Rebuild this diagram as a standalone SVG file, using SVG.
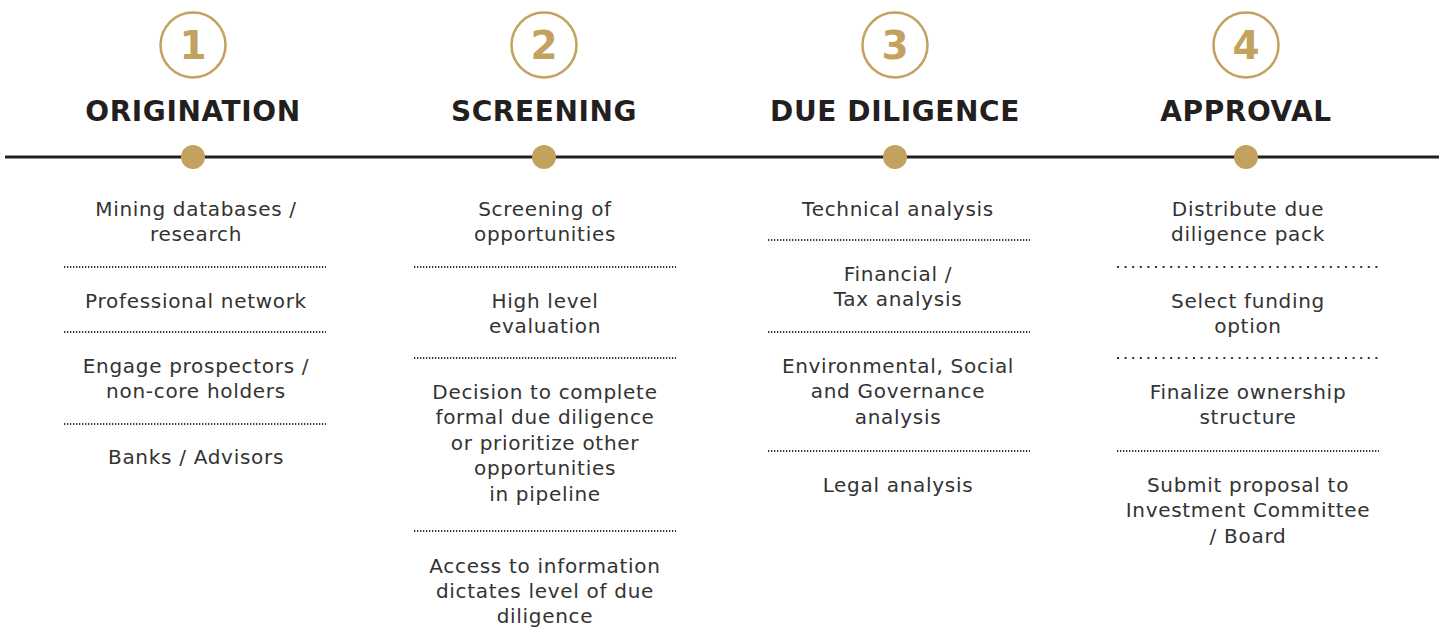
<svg xmlns="http://www.w3.org/2000/svg" width="1439" height="628" viewBox="0 0 1439 628">
<style>
.ring{fill:none;stroke:#C3A15E;stroke-width:2.5}
.num{font-family:"DejaVu Sans",sans-serif;font-weight:bold;font-size:39px;fill:#C3A15E;text-anchor:middle}
.ttl{font-family:"DejaVu Sans",sans-serif;font-weight:bold;font-size:28px;letter-spacing:0.6px;fill:#231F20;text-anchor:middle}
.dot{fill:#C3A15E}
.txt{font-family:"DejaVu Sans",sans-serif;font-size:20px;letter-spacing:0.7px;fill:#333333;text-anchor:middle}
.sep{stroke:#333333;stroke-width:2;stroke-dasharray:1.3 1.7;fill:none}
.sep2{stroke:#333333;stroke-width:2;stroke-dasharray:2 5.6;fill:none}
</style>
<rect width="1439" height="628" fill="#ffffff"/>
<g id="connectors">
<line x1="5" y1="157" x2="1439" y2="157" stroke="#231F20" stroke-width="3"/>
</g>
<g id="step1">
<circle class="ring" cx="193" cy="45" r="32.5"/>
<text class="num" x="193" y="59">1</text>
<text class="ttl" x="193" y="121">ORIGINATION</text>
<circle class="dot" cx="193" cy="157" r="12"/>
<text class="txt" x="196" y="216">Mining databases /</text>
<text class="txt" x="196" y="241">research</text>
<line class="sep" x1="64" y1="267" x2="326" y2="267"/>
<text class="txt" x="196" y="308">Professional network</text>
<line class="sep" x1="64" y1="332" x2="326" y2="332"/>
<text class="txt" x="196" y="373">Engage prospectors /</text>
<text class="txt" x="196" y="398">non-core holders</text>
<line class="sep" x1="64" y1="424" x2="326" y2="424"/>
<text class="txt" x="196" y="464">Banks / Advisors</text>
</g>
<g id="step2">
<circle class="ring" cx="544" cy="45" r="32.5"/>
<text class="num" x="544" y="59">2</text>
<text class="ttl" x="544" y="121">SCREENING</text>
<circle class="dot" cx="544" cy="157" r="12"/>
<text class="txt" x="545" y="216">Screening of</text>
<text class="txt" x="545" y="241">opportunities</text>
<line class="sep" x1="414" y1="267" x2="676" y2="267"/>
<text class="txt" x="545" y="308">High level</text>
<text class="txt" x="545" y="333">evaluation</text>
<line class="sep" x1="414" y1="358" x2="676" y2="358"/>
<text class="txt" x="545" y="399">Decision to complete</text>
<text class="txt" x="545" y="424">formal due diligence</text>
<text class="txt" x="545" y="450">or prioritize other</text>
<text class="txt" x="545" y="475">opportunities</text>
<text class="txt" x="545" y="501">in pipeline</text>
<line class="sep" x1="414" y1="531" x2="676" y2="531"/>
<text class="txt" x="545" y="573">Access to information</text>
<text class="txt" x="545" y="598">dictates level of due</text>
<text class="txt" x="545" y="623">diligence</text>
</g>
<g id="step3">
<circle class="ring" cx="895" cy="45" r="32.5"/>
<text class="num" x="895" y="59">3</text>
<text class="ttl" x="895" y="121">DUE DILIGENCE</text>
<circle class="dot" cx="895" cy="157" r="12"/>
<text class="txt" x="898" y="216">Technical analysis</text>
<line class="sep" x1="768" y1="240" x2="1030" y2="240"/>
<text class="txt" x="898" y="281">Financial /</text>
<text class="txt" x="898" y="306">Tax analysis</text>
<line class="sep" x1="768" y1="332" x2="1030" y2="332"/>
<text class="txt" x="898" y="373">Environmental, Social</text>
<text class="txt" x="898" y="398">and Governance</text>
<text class="txt" x="898" y="424">analysis</text>
<line class="sep" x1="768" y1="451" x2="1030" y2="451"/>
<text class="txt" x="898" y="492">Legal analysis</text>
</g>
<g id="step4">
<circle class="ring" cx="1246" cy="45" r="32.5"/>
<text class="num" x="1246" y="59">4</text>
<text class="ttl" x="1246" y="121">APPROVAL</text>
<circle class="dot" cx="1246" cy="157" r="12"/>
<text class="txt" x="1248" y="216">Distribute due</text>
<text class="txt" x="1248" y="241">diligence pack</text>
<line class="sep2" x1="1117" y1="267" x2="1381" y2="267"/>
<text class="txt" x="1248" y="308">Select funding</text>
<text class="txt" x="1248" y="333">option</text>
<line class="sep2" x1="1117" y1="358" x2="1381" y2="358"/>
<text class="txt" x="1248" y="399">Finalize ownership</text>
<text class="txt" x="1248" y="424">structure</text>
<line class="sep" x1="1117" y1="451" x2="1379" y2="451"/>
<text class="txt" x="1248" y="492">Submit proposal to</text>
<text class="txt" x="1248" y="517">Investment Committee</text>
<text class="txt" x="1248" y="543">/ Board</text>
</g>
</svg>
